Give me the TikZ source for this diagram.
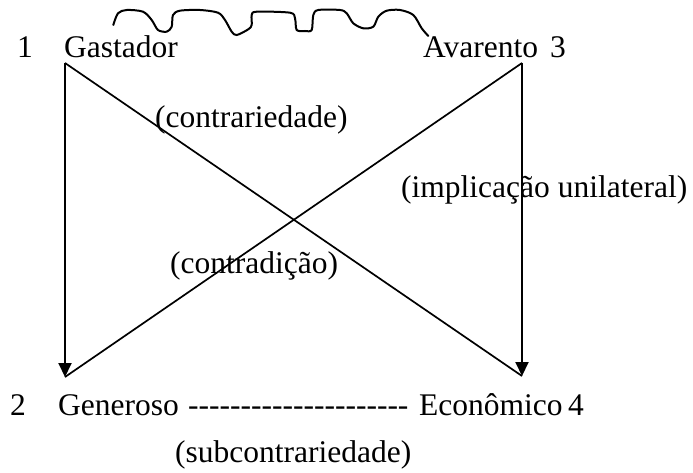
\documentclass[tikz,border=0pt]{standalone}
\usepackage{fontspec}
\setmainfont{Liberation Serif}
\usetikzlibrary{arrows.meta}
\begin{document}
\begin{tikzpicture}[x=1pt,y=-1pt,
  lbl/.style={anchor=base west,inner sep=0pt,font=\fontsize{31.5}{31.5}\selectfont},
  edge/.style={line width=1.7pt},
  vert/.style={line width=2pt,-{Triangle[width=13pt,length=14pt]}}]
\useasboundingbox (0,0) rectangle (693,473);
\fill[white] (0,0) rectangle (693,473);
% corner points
\coordinate (TL) at (65,63);
\coordinate (TR) at (522,63);
\coordinate (BL) at (65,377);
\coordinate (BR) at (522,376);
% texts
\node[lbl] (n1) at (17,58) {1};
\node[lbl] (gastador) at (64,58) {Gastador};
\node[lbl] (avarento) at (423,58) {Avarento};
\node[lbl] (n3) at (550,58) {3};
\node[lbl] (contrariedade) at (155,128) {(contrariedade)};
\node[lbl] (implicacao) at (401,198) {(implicação unilateral)};
\node[lbl] (contradicao) at (170,273) {(contradição)};
\node[lbl] (n2) at (10,415) {2};
\node[lbl] (generoso) at (58,415) {Generoso};
\node[lbl] (dashes) at (188,415) {-{}-{}-{}-{}-{}-{}-{}-{}-{}-{}-{}-{}-{}-{}-{}-{}-{}-{}-{}-{}-};
\node[lbl] (economico) at (419,415) {Econômico};
\node[lbl] (n4) at (568,415) {4};
\node[lbl] (subcontrariedade) at (175,462) {(subcontrariedade)};
% lines
\draw[edge] (TL) -- (BR);
\draw[edge] (TR) -- (BL);
\draw[vert] (TL) -- (BL);
\draw[vert] (TR) -- (BR);
% wavy line
\draw[line width=2pt,line cap=round] plot[smooth,tension=0.5] coordinates {
(113.3,25) (118,13.3) (126.7,10) (143,11.7) (151.7,20) (158,30) (166.7,31.7)
(171.7,26.7) (173,15) (180,10.7) (200,10) (218,12.7) (225,20) (231.7,31.7)
(236.7,35) (248.3,29.3) (251.7,25) (251.7,15) (256.7,11.7) (290,12.7)
(295,18.3) (296.7,30) (305,31) (311.7,30) (313.3,15) (318.3,10) (340,10)
(346.7,13.3) (353.3,23.3) (363.3,28.3) (373.3,26.7) (378.3,16.7)
(386.7,10.7) (400,10) (413.3,15) (421.7,28.3) (428.3,36)};
\end{tikzpicture}
\end{document}
